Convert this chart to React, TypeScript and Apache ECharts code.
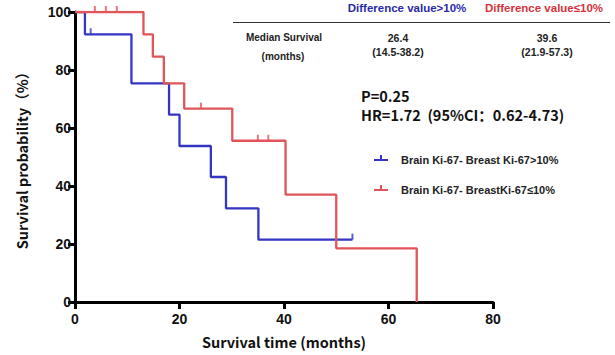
import React, { useEffect, useRef } from "react";
import * as echarts from "echarts";

const xTicks = [0, 20, 40, 60, 80];
const yTicks = [0, 20, 40, 60, 80, 100];

const blueTimes = [0, 1.9, 10.8, 18.0, 20.0, 26.0, 28.9, 35.1, 53.1];
const blueSurv = [100, 92.3, 75.4, 64.6, 53.8, 43.1, 32.3, 21.5, 21.5];
const blueCensorTimes = [3.0, 53.1];
const blueCensorSurv = [92.3, 21.5];

const redTimes = [0, 13.1, 14.9, 17.0, 20.9, 30.1, 40.3, 50.0, 65.4];
const redSurv = [100, 92.3, 84.6, 75.4, 66.7, 55.6, 37.0, 18.5, 0];
const redCensorTimes = [3.8, 5.9, 8.0, 24.1, 35.0, 37.0];
const redCensorSurv = [100, 100, 100, 66.7, 55.6, 55.6];

const groupNames = ["Brain Ki-67- Breast Ki-67>10%", "Brain Ki-67- BreastKi-67≤10%"];
const headers = ["Difference value>10%", "Difference value≤10%"];
const medians = ["26.4", "39.6"];
const medianCIs = ["(14.5-38.2)", "(21.9-57.3)"];

const BLUE = "#3535c4";
const RED = "#e0545a";
const CJK = "'Noto Sans CJK SC', 'Liberation Sans', sans-serif";
const SANS = "'Liberation Sans', Arial, sans-serif";

const zip = (a: number[], b: number[]) => a.map((v, i) => [v, b[i]]);

export default function App() {
  const ref = useRef<HTMLDivElement>(null);
  useEffect(() => {
    document.body.style.margin = "0";
    if (!ref.current) return;
    const chart = echarts.init(ref.current, null, { renderer: "svg" });
    const legendItem = (y: number, color: string, label: string) => [
      { type: "line", shape: { x1: 374, y1: y, x2: 388, y2: y }, style: { stroke: color, lineWidth: 2 } },
      { type: "line", shape: { x1: 381, y1: y - 5, x2: 381, y2: y }, style: { stroke: color, lineWidth: 2 } },
      {
        type: "text", x: 401, y: y,
        style: { text: label, fill: "#222", font: `bold 11px ${SANS}`, textAlign: "left", textVerticalAlign: "middle" },
      },
    ];
    const t = (x: number, y: number, text: string, font: string, fill = "#222", align = "center") => ({
      type: "text", x, y, style: { text, fill, font, textAlign: align, textVerticalAlign: "middle", lineHeight: 14 },
    });
    chart.setOption({
      animation: false,
      backgroundColor: "#fff",
      grid: { left: 75, top: 12, width: 418, height: 290, containLabel: false },
      xAxis: {
        type: "value", min: 0, max: 80, interval: 20,
        name: "Survival time (months)", nameLocation: "middle", nameGap: 32,
        nameTextStyle: { fontFamily: CJK, fontWeight: "bold", fontSize: 14.5, color: "#111" },
        axisLine: { lineStyle: { color: "#000", width: 3 } },
        axisTick: { length: 7, lineStyle: { color: "#000", width: 3 } },
        axisLabel: { color: "#111", fontFamily: SANS, fontWeight: "bold", fontSize: 14, margin: 10,
          formatter: (v: number) => (xTicks.includes(v) ? String(v) : "") },
        splitLine: { show: false },
      },
      yAxis: {
        type: "value", min: 0, max: 100, interval: 20,
        name: "Survival probability（%）", nameLocation: "middle", nameGap: 46, nameRotate: 90,
        nameTextStyle: { fontFamily: CJK, fontWeight: "bold", fontSize: 14.5, color: "#111" },
        axisLine: { lineStyle: { color: "#000", width: 3 } },
        axisTick: { length: 7, lineStyle: { color: "#000", width: 3 } },
        axisLabel: { color: "#111", fontFamily: SANS, fontWeight: "bold", fontSize: 14, margin: 4,
          formatter: (v: number) => (yTicks.includes(v) ? String(v) : "") },
        splitLine: { show: false },
      },
      series: [
        { type: "line", step: "end", data: zip(blueTimes, blueSurv), showSymbol: false, symbol: "none",
          lineStyle: { color: BLUE, width: 2.3 }, z: 3 },
        { type: "line", step: "end", data: zip(redTimes, redSurv), showSymbol: false, symbol: "none",
          lineStyle: { color: RED, width: 2.3 }, z: 4 },
        { type: "scatter", data: zip(blueCensorTimes, blueCensorSurv), symbol: "rect", symbolSize: [2, 6],
          symbolOffset: [0, -3], itemStyle: { color: BLUE }, z: 5 },
        { type: "scatter", data: zip(redCensorTimes, redCensorSurv), symbol: "rect", symbolSize: [2, 6],
          symbolOffset: [0, -3], itemStyle: { color: RED }, z: 5 },
      ],
      graphic: [
        t(407, 8, headers[0], `bold 11.5px ${SANS}`, "#2a2aa8"),
        t(544, 8, headers[1], `bold 11.5px ${SANS}`, "#d8323c"),
        { type: "line", shape: { x1: 233, y1: 22.5, x2: 610, y2: 22.5 }, style: { stroke: "#333", lineWidth: 1.2 } },
        t(284, 37, "Median Survival", `bold 10px ${SANS}`),
        t(283, 56, "(months)", `bold 10px ${SANS}`),
        t(398, 38, medians[0], `bold 10.5px ${SANS}`),
        t(398, 52, medianCIs[0], `bold 10.5px ${SANS}`),
        t(547, 38, medians[1], `bold 10.5px ${SANS}`),
        t(547, 52, medianCIs[1], `bold 10.5px ${SANS}`),
        t(361, 95.5, "P=0.25", `bold 14.5px ${CJK}`, "#111", "left"),
        t(361, 114.5, "HR=1.72  (95%CI：0.62-4.73)", `bold 14.5px ${CJK}`, "#111", "left"),
        ...legendItem(160, BLUE, groupNames[0]),
        ...legendItem(190, RED, groupNames[1]),
      ],
    });
    return () => chart.dispose();
  }, []);
  return <div ref={ref} style={{ width: 615, height: 355 }} />;
}
